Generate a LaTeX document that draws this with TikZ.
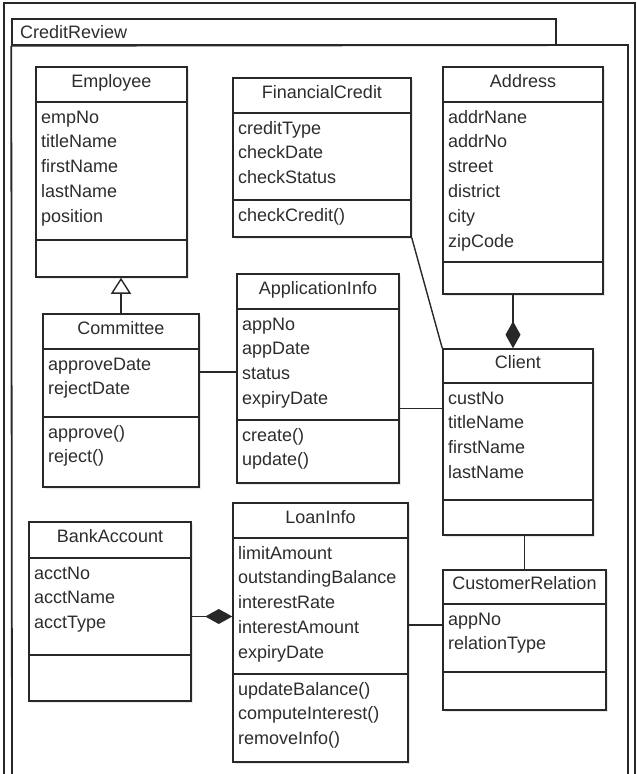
\documentclass[tikz,border=0pt]{standalone}
\usepackage{fontspec}
\setmainfont{Liberation Sans}
\usetikzlibrary{arrows.meta,fit,shadows}
\definecolor{ln}{RGB}{40,40,40}
\definecolor{tx}{RGB}{45,45,45}
\newcommand{\umlfont}{\fontsize{18}{22}\selectfont}
\tikzset{
  clsbox/.style={draw=ln, line width=1.5pt, inner sep=0pt, fill=white,
    drop shadow={shadow xshift=1.5pt, shadow yshift=-1.5pt, opacity=0.18}},
  pkgbox/.style={draw=ln, line width=1.5pt, inner sep=0pt, fill=white},
  sepline/.style={draw=ln, line width=1.5pt},
  frameline/.style={draw=ln, line width=1.8pt},
  conn/.style={draw=ln, line width=1.4pt},
  ttl/.style={anchor=base, inner sep=0pt, font=\umlfont, text=tx},
  mem/.style={anchor=base west, inner sep=0pt, font=\umlfont, text=tx},
  gen/.style={-{Triangle[open, length=16pt, width=20pt, fill=white]}},
  comp/.style={-{Diamond[length=27pt, width=15pt, fill=ln]}}
}
\newcommand{\umlclass}[8]{%
  \node[clsbox, fit={(#2,#3) (#4,#5)}] (#1) {};
  \draw[sepline] (#2,#6) -- (#4,#6);
  \draw[sepline] (#2,#7) -- (#4,#7);
  \node[ttl] (#1-title) at ({(#2+#4)/2},{(#3+#6)/2+2.5}) {#8};
}
\newcommand{\umlmembers}[5]{%
  \foreach \mtext [count=\i] in {#5} {\node[mem] (#1-#2\i) at (#3+5,#4+21+\i*24.8-24.8) {\mtext};}
}
\begin{document}
\begin{tikzpicture}[x=1pt,y=-1pt]
\fill[white] (0,0) rectangle (637,774);
\useasboundingbox (0,0) rectangle (637,774);
% outer frame
\draw[frameline] (4,774) -- (4,3) -- (635,3) -- (635,774);
% package
\node[pkgbox, fit={(12,19) (556,45)}] (tab) {};
\node[mem] (tabtext) at (20,38) {CreditReview};
\draw[frameline] (tab.south west) -- (12,774);
\draw[frameline] (tab.south west) -- (628,45) -- (628,774);

% classes
\umlclass{emp}{36}{67}{187}{277}{102}{240}{Employee}
\umlmembers{emp}{a}{36}{102}{empNo,titleName,firstName,lastName,position}

\umlclass{comm}{43}{314}{199}{487}{349}{417}{Committee}
\umlmembers{comm}{a}{43}{349}{approveDate,rejectDate}
\umlmembers{comm}{m}{43}{417}{approve(),reject()}

\umlclass{fc}{233}{78}{411}{237}{113}{200}{FinancialCredit}
\umlmembers{fc}{a}{233}{113}{creditType,checkDate,checkStatus}
\umlmembers{fc}{m}{233}{200}{checkCredit()}

\umlclass{appl}{237}{274}{399}{483}{309}{420}{ApplicationInfo}
\umlmembers{appl}{a}{237}{309}{appNo,appDate,status,expiryDate}
\umlmembers{appl}{m}{237}{420}{create(),update()}

\umlclass{addr}{443}{67}{603}{294}{102}{262}{Address}
\umlmembers{addr}{a}{443}{102}{addrNane,addrNo,street,district,city,zipCode}

\umlclass{cl}{443}{349}{593}{535}{383}{500}{Client}
\umlmembers{cl}{a}{443}{383}{custNo,titleName,firstName,lastName}

\umlclass{bank}{29}{522}{191}{701}{558}{655}{BankAccount}
\umlmembers{bank}{a}{29}{558}{acctNo,acctName,acctType}

\umlclass{loan}{233}{503}{408}{762}{538}{674}{LoanInfo}
\umlmembers{loan}{a}{233}{538}{limitAmount,outstandingBalance,interestRate,interestAmount,expiryDate}
\umlmembers{loan}{m}{233}{674}{updateBalance(),computeInterest(),removeInfo()}

\umlclass{cr}{443}{570}{606}{710}{604}{672}{CustomerRelation}
\umlmembers{cr}{a}{443}{604}{appNo,relationType}

% connectors
\draw[conn, gen] (comm.north) -- (comm.north |- emp.south);
\draw[conn] (comm.east |- 0,372) -- (appl.west |- 0,372);
\draw[conn] (appl.east |- 0,408.5) -- (cl.west |- 0,408.5);
\draw[conn] (fc.south east) -- (cl.north west);
\draw[conn, comp] (addr.south -| 513,0) -- (cl.north -| 513,0);
\draw[conn] (cr.north) -- (cr.north |- cl.south);
\draw[conn] (loan.east |- 0,625) -- (cr.west |- 0,625);
\draw[conn, comp] (bank.east |- 0,616.5) -- (loan.west |- 0,616.5);
\end{tikzpicture}
\end{document}
